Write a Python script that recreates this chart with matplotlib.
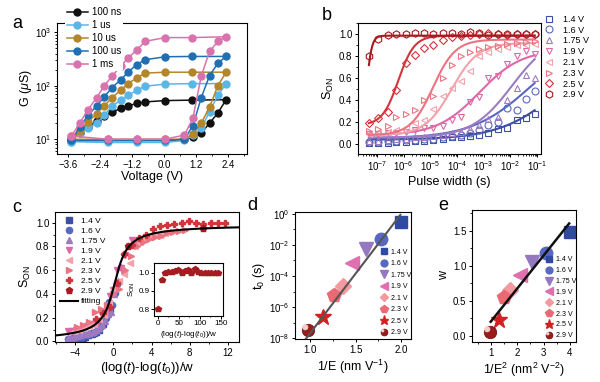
import numpy as np
import matplotlib
matplotlib.use("Agg")
import matplotlib.pyplot as plt
from matplotlib.ticker import LogLocator, FixedLocator, FuncFormatter, MultipleLocator, NullFormatter
from matplotlib.path import Path

plt.rcParams['font.family'] = ['Liberation Sans', 'DejaVu Sans']
plt.rcParams['mathtext.fontset'] = 'custom'
plt.rcParams['mathtext.rm'] = 'Liberation Sans'
plt.rcParams['mathtext.it'] = 'Liberation Sans:italic'
plt.rcParams['mathtext.bf'] = 'Liberation Sans:bold'
plt.rcParams['xtick.labelsize'] = 7
plt.rcParams['ytick.labelsize'] = 7
plt.rcParams['axes.labelsize'] = 9
plt.rcParams['axes.linewidth'] = 0.8
for k in ['xtick', 'ytick']:
    plt.rcParams[k + '.direction'] = 'out'
    plt.rcParams[k + '.major.size'] = 2.5
    plt.rcParams[k + '.minor.size'] = 1.5
    plt.rcParams[k + '.major.width'] = 0.7
    plt.rcParams[k + '.minor.width'] = 0.6
    plt.rcParams[k + '.major.pad'] = 1.5

# ---- panel a: G-V loops for different pulse widths ----
V_low = [-3.46, -2.09, -1.02, 0.04, 0.76, 1.08, 1.39, 1.70, 2.01, 2.32]
V_up = [2.32, 1.04, 0.04, -0.71, -1.02, -1.34, -1.62, -1.94, -2.24, -2.52, -2.84, -3.15, -3.46]
G_100ns_low = [9.5, 9.5, 9.5, 9.5, 10, 11, 13, 20, 31, 55]
G_100ns_up = [55, 54, 53, 50, 47, 42, 38, 32, 27, 22, 17, 13, 9.5]
G_1us_low = [9, 8.7, 8.7, 8.7, 9.5, 12, 16, 33, 66, 110]
G_1us_up = [110, 110, 108, 98, 83, 66, 54, 42, 28, 20, 16, 13, 9]
G_10us_low = [10, 10, 10, 10, 10, 12.5, 20, 40, 100, 180]
G_10us_up = [180, 180, 180, 173, 141, 110, 83, 60, 42, 30, 21, 14.5, 10]
G_100us_low = [9.5, 9.5, 9.5, 9.5, 10, 18, 60, 155, 265, 355]
G_100us_up = [355, 355, 350, 308, 250, 181, 130, 93, 62, 42, 28, 17, 9.5]
G_1ms_low = [11.5, 10, 10, 10, 12, 25, 152, 440, 680, 830]
G_1ms_up = [830, 800, 800, 680, 466, 333, 233, 152, 99, 60, 36, 20, 11.5]
a_labels = ['100 ns', '1 us', '10 us', '100 us', '1 ms']
a_colors = ['#111111', '#5ab6e6', '#b3862c', '#1f6fb2', '#d873ad']

# ---- panel b: S_ON vs pulse width ----
pulse_width = [5e-8, 1.1e-7, 2.5e-7, 5.4e-7, 1.2e-6, 2.7e-6, 5.9e-6, 1.3e-5, 2.9e-5, 6.4e-5,
               1.4e-4, 3.1e-4, 6.9e-4, 1.5e-3, 3.4e-3, 7.5e-3, 1.7e-2, 3.7e-2, 8.1e-2]
S_14 = [0.01, 0.01, 0.01, 0.015, 0.02, 0.025, 0.03, 0.04, 0.05, 0.06, 0.06, 0.07, 0.08, 0.10, 0.14, 0.15, 0.22, 0.24, 0.27]
S_16 = [0.02, 0.02, 0.025, 0.03, 0.035, 0.04, 0.05, 0.05, 0.06, 0.07, 0.08, 0.10, 0.13, 0.17, 0.20, 0.33, 0.31, 0.41, 0.48]
S_175 = [0.03, 0.03, 0.04, 0.045, 0.05, 0.06, 0.06, 0.07, 0.08, 0.10, 0.11, 0.14, 0.17, 0.23, 0.25, 0.40, 0.51, 0.63, 0.60]
S_19 = [0.09, 0.09, 0.10, 0.10, 0.11, 0.13, 0.15, 0.15, 0.16, 0.22, 0.25, 0.38, 0.43, 0.60, 0.62, 0.73, 0.80, 0.85, 0.82]
S_21 = [0.09, 0.10, 0.11, 0.13, 0.15, 0.19, 0.22, 0.32, 0.44, 0.51, 0.57, 0.66, 0.80, 0.84, 0.86, 0.88, 0.90, 0.90, 0.91]
S_23 = [0.12, 0.14, 0.16, 0.25, 0.27, 0.31, 0.40, 0.44, 0.60, 0.72, 0.80, 0.84, 0.86, 0.88, 0.89, 0.91, 0.92, 0.93, 0.94]
S_25 = [0.19, 0.24, 0.29, 0.49, 0.74, 0.81, 0.87, 0.90, 0.95, 0.97, 0.98, 0.99, 1.0, 1.01, 1.0, 0.99, 1.0, 1.0, 1.0]
S_29 = [0.80, 0.957, 0.995, 1.004, 1.004, 1.01, 1.013, 1.0, 1.007, 1.013, 1.0, 1.02, 1.005, 0.995, 0.998, 1.0, 1.0, 1.0, 1.0]
volt_labels = ['1.4 V', '1.6 V', '1.75 V', '1.9 V', '2.1 V', '2.3 V', '2.5 V', '2.9 V']
volt_colors = ['#3d4fa3', '#5868c0', '#9d7ac2', '#e067a8', '#f2a2aa', '#ec7482', '#d0353b', '#a51b1f']
# Boltzmann fits drawn in b (base, top, centre log10 t, width in decades)
fit_base = [0.04, 0.05, 0.06, 0.08, 0.08, 0.08, 0.17, 0.0]
fit_top = [1.0, 1.0, 1.0, 0.86, 0.92, 0.95, 0.985, 0.985]
fit_center = [0.0, -1.23, -1.94, -3.16, -4.2, -4.9, -6.2, -7.4]
fit_width = [1.15, 1.11, 0.75, 0.79, 0.5, 0.42, 0.3, 0.1]

# ---- panel c: normalisation used for the master curve ----
c_log_t0 = [-0.55, -1.61, -2.24, -3.17, -4.61, -5.2, -6.45, -7.37]
c_w = [1.48, 1.19, 1.06, 0.87, 0.65, 0.55, 0.46, 0.044]
master_amp = 0.985
master_shift = 0.15

# ---- panels d, e ----
inv_E = [2.0, 1.78, 1.62, 1.46, 1.36, 1.26, 1.14, 0.98]
log_t0 = [-0.55, -1.61, -2.24, -3.17, -4.61, -5.2, -6.62, -7.46]
d_fit_slope, d_fit_intercept, d_fit_x = 7.68, -15.37, (0.956, 1.993)
inv_E2 = [4.0, 3.09, 2.54, 2.10, 1.72, 1.49, 1.30, 0.96]
w_vals = [1.48, 1.19, 1.06, 0.87, 0.65, 0.55, 0.22, 0.06]
e_fit_slope, e_fit_intercept, e_fit_x = 0.472, -0.267, (0.99, 3.97)


def rect(l, t, r, b):
    return [l / 600, 1 - b / 382, (r - l) / 600, (b - t) / 382]


fig = plt.figure(figsize=(6, 3.82), dpi=100)

# ===================== a =====================
ax = fig.add_axes(rect(57, 23, 247, 154))
lows = [G_100ns_low, G_1us_low, G_10us_low, G_100us_low, G_1ms_low]
ups = [G_100ns_up, G_1us_up, G_10us_up, G_100us_up, G_1ms_up]
for lo, up, c, lab in zip(lows, ups, a_colors, a_labels):
    ax.plot(V_low + V_up[1:], lo + up[1:], '-o', color=c, ms=5, lw=1.1, label=lab)
ax.set_yscale('log')
ax.set_xlim(-4.0, 3.1)
ax.set_ylim(5.3, 1500)
ax.set_xticks([-3.6, -2.4, -1.2, 0.0, 1.2, 2.4])
ax.xaxis.set_minor_locator(MultipleLocator(0.6))
ax.set_xlabel('Voltage (V)', labelpad=1)
ax.set_ylabel('G ($\\mu$S)', labelpad=1)
leg = ax.legend(loc='upper left', bbox_to_anchor=(0.04, 1.135), frameon=True, facecolor='white',
                edgecolor='none', framealpha=1, fontsize=7, handlelength=2.2, labelspacing=0.3,
                borderpad=0.2, handletextpad=0.4, borderaxespad=0)
leg.set_zorder(10)

# ===================== b =====================
ax = fig.add_axes(rect(358, 23, 541, 154))
S_all = [S_14, S_16, S_175, S_19, S_21, S_23, S_25, S_29]
b_markers = ['s', 'o', '^', 'v', '<', '>', 'D', 'h']
b_ms = [4.3, 5, 5, 5, 5, 5, 4.3, 5.3]
logt = np.log10(pulse_width)
t_fit = np.logspace(logt[0], logt[-1], 300)
for i in range(8):
    c = volt_colors[i]
    yf = fit_base[i] + (fit_top[i] - fit_base[i]) / (1 + np.exp(-(np.log10(t_fit) - fit_center[i]) / fit_width[i]))
    ax.plot(t_fit, yf, color=c, lw=1.5)
    ax.plot(pulse_width, S_all[i], ls='none', marker=b_markers[i], ms=b_ms[i], mfc='none',
            mec=c, mew=0.8, label=volt_labels[i])
ax.set_xscale('log')
ax.set_xlim(1.95e-8, 0.14)
ax.set_ylim(-0.09, 1.1)
ax.xaxis.set_major_locator(LogLocator(base=10, numticks=12))
ax.xaxis.set_minor_locator(LogLocator(base=10, subs=np.arange(2, 10), numticks=12))
ax.xaxis.set_minor_formatter(NullFormatter())
ax.set_yticks([0.0, 0.2, 0.4, 0.6, 0.8, 1.0])
ax.yaxis.set_minor_locator(MultipleLocator(0.1))
ax.set_xlabel('Pulse width (s)', labelpad=2)
ax.set_ylabel('S$_{\\mathrm{ON}}$', labelpad=2)
ax.legend(loc='upper left', bbox_to_anchor=(1.0, 1.09), frameon=False, fontsize=6.5,
          handlelength=1.0, handletextpad=1.0, labelspacing=0.2, borderaxespad=0)

# ===================== c =====================
ax = fig.add_axes(rect(55, 212, 239, 342))
c_markers = ['s', 'o', '^', 'v', '<', '>', 'P', 'p']
c_ms = [4, 4.5, 4.8, 4.8, 4.8, 4.8, 5, 5]
for i in range(8):
    x = (logt - c_log_t0[i]) / c_w[i]
    ax.plot(x, S_all[i], ls='none', marker=c_markers[i], ms=c_ms[i], color=volt_colors[i],
            mec=volt_colors[i], label=volt_labels[i])
xm = np.linspace(-6.1, 13.15, 300)
ax.plot(xm, master_amp * (0.5 + np.arctan(xm - master_shift) / np.pi), color='black', lw=1.5,
        label='fitting', zorder=5)
ax.set_xlim(-6.1, 13.15)
ax.set_ylim(-0.005, 1.09)
ax.set_xticks([-4, 0, 4, 8, 12])
ax.xaxis.set_minor_locator(MultipleLocator(2))
ax.set_yticks([0.0, 0.2, 0.4, 0.6, 0.8, 1.0])
ax.yaxis.set_minor_locator(MultipleLocator(0.1))
ax.set_xlabel('(log($t$)-log($t_0$))/w', fontsize=9.5, labelpad=2)
ax.set_ylabel('S$_{\\mathrm{ON}}$', labelpad=2)
ax.legend(loc='upper left', bbox_to_anchor=(0.0, 1.0), frameon=False, fontsize=6,
          handlelength=2.2, handletextpad=0.3, labelspacing=0.27, borderaxespad=0.2)

# inset with 2.9 V
axi = fig.add_axes(rect(154, 263, 223, 316))
axi.plot((logt - c_log_t0[7]) / c_w[7], S_29, ls='none', marker='p', ms=4.3, color=volt_colors[7])
axi.set_xlim(-9, 155)
axi.set_ylim(0.764, 1.052)
axi.set_xticks([0, 50, 100, 150])
axi.set_yticks([0.8, 0.9, 1.0])
axi.xaxis.set_minor_locator(MultipleLocator(25))
axi.tick_params(labelsize=5.8, length=2, pad=1)
axi.tick_params(which='minor', length=1)
axi.set_xlabel('(log($t$)-log($t_0$))/w', fontsize=5.8, labelpad=1)
axi.set_ylabel('S$_{\\mathrm{ON}}$', fontsize=5.8, labelpad=1)

# ===================== d & e =====================
de_markers = ['s', 'o', 'v', '<', 'D', 'p', '*', 'o']
de_ms = [8.5, 9, 10, 10, 8, 10, 12, 9]
de_colors = ['#2f4aa0', '#5868c0', '#9478c0', '#e070b0', '#f29aa0', '#ea6a74', '#d42020', '#9b1b1b']
hl_path = Path.circle(center=(-0.3, 0.3), radius=0.28)


def draw_points(ax, xs, ys):
    handles = []
    for i in range(8):
        if i == 7:
            h1, = ax.plot(xs[i], ys[i], ls='none', marker='o', ms=de_ms[i], color=de_colors[i],
                          mec='#6a0e0e', mew=0.5)
            h2, = ax.plot(xs[i], ys[i], ls='none', marker=hl_path, ms=de_ms[i], color='#f4cccc', mew=0)
            handles.append((h1, h2))
        else:
            h, = ax.plot(xs[i], ys[i], ls='none', marker=de_markers[i], ms=de_ms[i],
                         color=de_colors[i], mec=de_colors[i])
            handles.append(h)
    return handles


ax = fig.add_axes(rect(295, 212, 411, 339))
t0_vals = [10.0 ** v for v in log_t0]
hd = draw_points(ax, inv_E, t0_vals)
xl = np.array(d_fit_x)
ax.plot(xl, 10.0 ** (d_fit_intercept + d_fit_slope * xl), color='#555555', lw=1.5, zorder=4)
ax.set_yscale('log')
ax.set_xlim(0.835, 2.11)
ax.set_ylim(10 ** -8.05, 10 ** 0.12)
ax.set_xticks([1.0, 1.5, 2.0])
ax.xaxis.set_minor_locator(MultipleLocator(0.25))
ax.yaxis.set_major_locator(FixedLocator([1e-8, 1e-6, 1e-4, 1e-2, 1.0]))
ax.yaxis.set_minor_locator(FixedLocator([1e-7, 1e-5, 1e-3, 1e-1]))
ax.yaxis.set_major_formatter(FuncFormatter(lambda v, p: '10$^{%d}$' % round(np.log10(v))))
ax.yaxis.set_minor_formatter(NullFormatter())
ax.set_xlabel('1/E (nm V$^{-1}$)', labelpad=2)
ax.set_ylabel('t$_0$ (s)', labelpad=1)
ax.legend(hd, volt_labels, loc='lower right', bbox_to_anchor=(1.04, -0.01), frameon=False,
          fontsize=5, markerscale=0.55, handlelength=1.0, handletextpad=0.6, labelspacing=0.65,
          borderaxespad=0.2)

ax = fig.add_axes(rect(472, 210, 576, 342))
he = draw_points(ax, inv_E2, w_vals)
xl = np.array(e_fit_x)
ax.plot(xl, e_fit_intercept + e_fit_slope * xl, color='#111111', lw=1.8, zorder=4)
ax.set_xlim(0.28, 4.23)
ax.set_ylim(-0.09, 1.8)
ax.set_xticks([1, 2, 3, 4])
ax.xaxis.set_minor_locator(MultipleLocator(0.5))
ax.set_yticks([0.0, 0.5, 1.0, 1.5])
ax.yaxis.set_minor_locator(MultipleLocator(0.25))
ax.set_xlabel('1/E$^2$ (nm$^2$ V$^{-2}$)', labelpad=2)
ax.set_ylabel('w', labelpad=2)
ax.legend(he, volt_labels, loc='lower right', bbox_to_anchor=(1.04, -0.01), frameon=False,
          fontsize=5, markerscale=0.55, handlelength=1.0, handletextpad=0.5, labelspacing=0.55,
          borderaxespad=0.2)

# panel letters
for lab, x, y in [('a', 17, 23), ('b', 327, 15), ('c', 17, 207), ('d', 252, 205), ('e', 443, 205)]:
    fig.text(x / 600, 1 - y / 382, lab, fontsize=13, ha='center', va='center')

fig.savefig('out.png', dpi=100)
